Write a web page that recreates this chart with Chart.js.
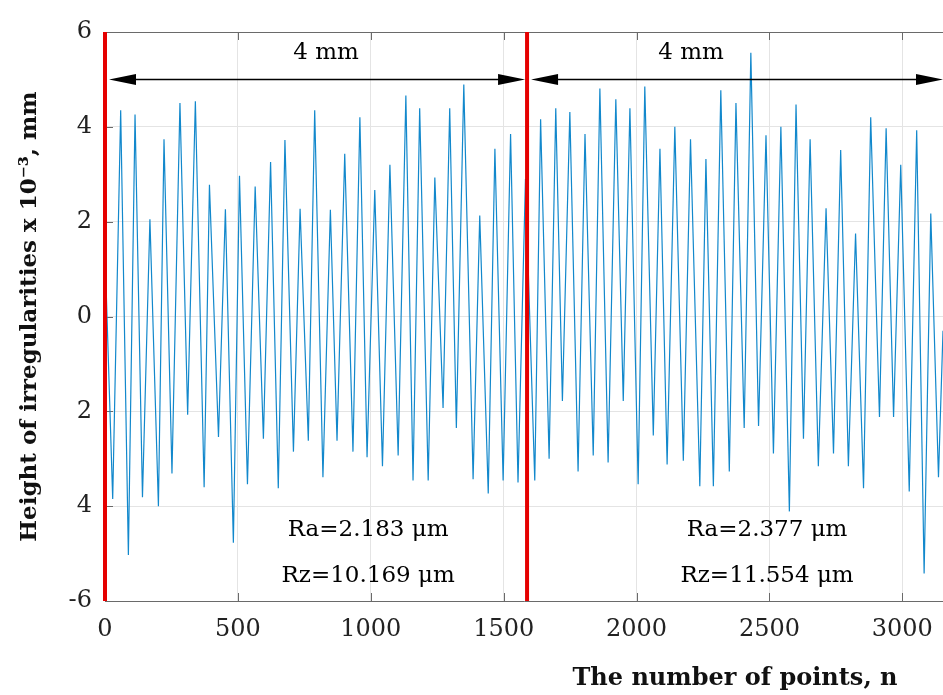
<!DOCTYPE html>
<html>
<head>
<meta charset="utf-8">
<script src="https://cdn.jsdelivr.net/npm/chart.js@4.4.1/dist/chart.umd.min.js"></script>
<style>
html, body { margin: 0; padding: 0; background: #fff; }
#wrap { width: 943px; height: 695px; position: relative; }
</style>
</head>
<body>
<div id="wrap"><canvas id="chart_profile"></canvas></div>
<script>
// profile turning points (x = point number, y = height x 10^-3 mm)
var profileX = [2, 29, 59, 88, 113, 141, 169, 201, 222, 252, 282, 311, 340, 373, 393, 427, 453, 483, 506, 536,
    565, 596, 623, 652, 677, 709, 734, 765, 789, 820, 848, 873, 902, 933, 959, 986, 1015, 1044, 1072, 1103,
    1132, 1159, 1184, 1216, 1241, 1272, 1297, 1322, 1350, 1385, 1410, 1442, 1467, 1498, 1526, 1554, 1582, 1617, 1639, 1671,
    1696, 1721, 1749, 1780, 1806, 1837, 1862, 1893, 1922, 1950, 1975, 2006, 2031, 2063, 2088, 2115, 2144, 2176, 2203, 2238,
    2261, 2289, 2317, 2349, 2374, 2405, 2430, 2459, 2487, 2515, 2543, 2575, 2600, 2628, 2653, 2684, 2713, 2741, 2768, 2797,
    2824, 2854, 2881, 2914, 2939, 2967, 2994, 3026, 3054, 3082, 3107, 3136, 3153];
var profileY = [1.0, -3.85, 4.35, -5.03, 4.26, -3.81, 2.05, -4.0, 3.74, -3.31, 4.5, -2.07, 4.54, -3.6, 2.78, -2.54, 2.26, -4.77, 2.97, -3.54,
    2.74, -2.58, 3.26, -3.62, 3.72, -2.85, 2.27, -2.62, 4.35, -3.39, 2.25, -2.62, 3.43, -2.85, 4.2, -2.97, 2.67, -3.16, 3.2, -2.93,
    4.66, -3.46, 4.39, -3.46, 2.93, -1.93, 4.39, -2.35, 4.89, -3.43, 2.13, -3.73, 3.54, -3.46, 3.85, -3.5, 2.9, -3.46, 4.16, -3.0,
    4.39, -1.78, 4.31, -3.27, 3.85, -2.93, 4.81, -3.08, 4.58, -1.78, 4.39, -3.54, 4.85, -2.51, 3.54, -3.12, 4.0, -3.04, 3.74, -3.58,
    3.32, -3.58, 4.77, -3.27, 4.5, -2.35, 5.56, -2.31, 3.82, -2.89, 4.0, -4.11, 4.47, -2.58, 3.74, -3.16, 2.28, -2.89, 3.51, -3.16,
    1.75, -3.62, 4.2, -2.12, 3.97, -2.12, 3.2, -3.69, 3.93, -5.42, 2.17, -3.39, -0.3];

var sectionEdges = [0, 1588];          // red vertical markers
var sectionEnd = 3153;                 // right end of the record
var xTickValues = [0, 500, 1000, 1500, 2000, 2500, 3000];
var yTickLabels = ['-6', '4', '2', '0', '2', '4', '6'];
var lengthLabels = ['4 mm', '4 mm'];
var raLabels = ['Ra=2.183 \u03bcm', 'Ra=2.377 \u03bcm'];
var rzLabels = ['Rz=10.169 \u03bcm', 'Rz=11.554 \u03bcm'];

var serif = '"DejaVu Serif", "Liberation Serif", serif';

var profileData = profileX.map(function (x, i) { return {x: x, y: profileY[i]}; });
var markerSets = sectionEdges.map(function (x) {
    return {
        data: [{x: x, y: -6}, {x: x, y: 6}],
        borderColor: '#e50000',
        borderWidth: 4,
        pointRadius: 0,
        clip: false
    };
});

var chart_profile = new Chart(document.getElementById('chart_profile'), {
    type: 'line',
    data: {
        datasets: markerSets.concat([{
            label: 'profile',
            data: profileData,
            borderColor: '#1288cc',
            borderWidth: 1.2,
            pointRadius: 0,
            tension: 0
        }])
    },
    options: {
        animation: false,
        responsive: true,
        maintainAspectRatio: false,
        layout: {padding: {top: 32, left: 0, right: 0, bottom: 0}},
        plugins: {
            legend: {display: false},
            tooltip: {enabled: false}
        },
        scales: {
            x: {
                type: 'linear',
                min: 0,
                max: sectionEnd,
                afterBuildTicks: function (scale) {
                    scale.ticks = xTickValues.map(function (v) { return {value: v}; });
                },
                ticks: {
                    maxRotation: 0,
                    autoSkip: false,
                    padding: 14,
                    color: '#222',
                    font: {family: serif, size: 24},
                    callback: function (value) { return String(value); }
                },
                grid: {color: '#e4e4e4', drawTicks: false},
                border: {color: '#6a6a6a'},
                afterFit: function (scale) {
                    scale.height = 94;
                    scale.paddingLeft = 0;
                    scale.paddingRight = 0;
                }
            },
            y: {
                type: 'linear',
                min: -6,
                max: 6,
                ticks: {
                    stepSize: 2,
                    padding: 13,
                    color: '#222',
                    font: {family: serif, size: 24},
                    callback: function (value, index) { return yTickLabels[index]; }
                },
                grid: {color: '#e4e4e4', drawTicks: false},
                border: {display: false},
                title: {
                    display: true,
                    text: 'Height of irregularities x 10\u207b\u00b3, mm',
                    color: '#111',
                    font: {family: serif, size: 23, weight: 'bold'},
                    padding: {top: 16, bottom: 0}
                },
                afterFit: function (scale) { scale.width = 105; }
            }
        }
    },
    plugins: [{
        id: 'customPlugin',
        beforeDraw: (chart) => {
            const ctx = chart.canvas.getContext('2d');
            ctx.save();
            ctx.globalCompositeOperation = 'destination-over';
            ctx.fillStyle = 'white';
            ctx.fillRect(0, 0, chart.canvas.width, chart.canvas.height);
            ctx.restore();
        },
        beforeDatasetsDraw: (chart) => {
            const ctx = chart.ctx;
            const a = chart.chartArea;
            const xs = chart.scales.x, ys = chart.scales.y;
            ctx.save();
            // top frame line and inward tick marks
            ctx.strokeStyle = '#6a6a6a';
            ctx.lineWidth = 1;
            ctx.beginPath();
            ctx.moveTo(a.left, a.top + 0.5);
            ctx.lineTo(a.right, a.top + 0.5);
            xs.ticks.forEach(t => {
                const px = Math.round(xs.getPixelForValue(t.value)) + 0.5;
                ctx.moveTo(px, a.bottom);
                ctx.lineTo(px, a.bottom - 8);
                ctx.moveTo(px, a.top);
                ctx.lineTo(px, a.top + 8);
            });
            ys.ticks.forEach(t => {
                const py = Math.round(ys.getPixelForValue(t.value)) + 0.5;
                ctx.moveTo(a.left, py);
                ctx.lineTo(a.left + 8, py);
            });
            ctx.stroke();
            ctx.restore();
        },
        afterDatasetsDraw: (chart) => {
            const ctx = chart.ctx;
            const xs = chart.scales.x, ys = chart.scales.y;
            const ay = ys.getPixelForValue(5);
            const bounds = sectionEdges.concat([sectionEnd]);
            ctx.save();
            ctx.fillStyle = '#000';
            ctx.strokeStyle = '#000';
            ctx.lineWidth = 1.5;
            for (let i = 0; i < 2; i++) {
                const x0 = xs.getPixelForValue(bounds[i]) + 4;
                const x1 = xs.getPixelForValue(bounds[i + 1]) - (i === 0 ? 2 : 0);
                ctx.beginPath();
                ctx.moveTo(x0 + 20, ay);
                ctx.lineTo(x1 - 20, ay);
                ctx.stroke();
                ctx.beginPath();
                ctx.moveTo(x0, ay);
                ctx.lineTo(x0 + 27, ay - 5.5);
                ctx.lineTo(x0 + 27, ay + 5.5);
                ctx.closePath();
                ctx.fill();
                ctx.beginPath();
                ctx.moveTo(x1, ay);
                ctx.lineTo(x1 - 27, ay - 5.5);
                ctx.lineTo(x1 - 27, ay + 5.5);
                ctx.closePath();
                ctx.fill();
            }
            ctx.font = '23px ' + serif;
            ctx.textAlign = 'center';
            ctx.textBaseline = 'middle';
            const lenX = [832, 2205];
            const statX = [990, 2491];
            for (let i = 0; i < 2; i++) {
                ctx.fillText(lengthLabels[i], xs.getPixelForValue(lenX[i]), ys.getPixelForValue(5.55));
                ctx.fillText(raLabels[i], xs.getPixelForValue(statX[i]), ys.getPixelForValue(-4.5));
                ctx.fillText(rzLabels[i], xs.getPixelForValue(statX[i]), ys.getPixelForValue(-5.47));
            }
            ctx.restore();
        },
        afterDraw: (chart) => {
            const ctx = chart.ctx;
            ctx.save();
            ctx.font = 'bold 24px ' + serif;
            ctx.fillStyle = '#111';
            ctx.textAlign = 'center';
            ctx.textBaseline = 'middle';
            ctx.fillText('The number of points, n', 735, 679);
            ctx.restore();
        }
    }]
});
</script>
</body>
</html>
